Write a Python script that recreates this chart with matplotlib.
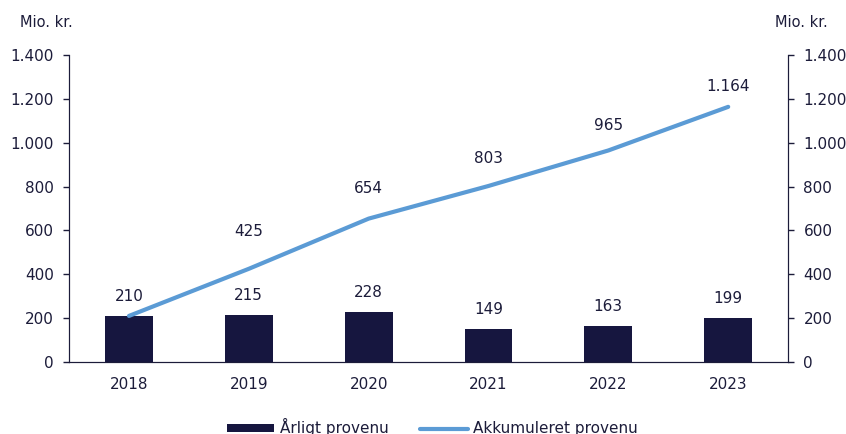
import matplotlib.pyplot as plt

years = ['2018', '2019', '2020', '2021', '2022', '2023']
annual = [210, 215, 228, 149, 163, 199]
cumulative = [210, 425, 654, 803, 965, 1164]
yticks = [0, 200, 400, 600, 800, 1000, 1200, 1400]


def dk(v):
    return f'{v:,}'.replace(',', '.')


plt.rcParams['font.family'] = ['DejaVu Sans']
txt = '#1c1c3a'
navy = '#16163f'
blue = '#5b9bd5'
fs = 11

fig = plt.figure(figsize=(8.46, 4.34), dpi=100)
ax = fig.add_axes([0.0816, 0.166, 0.85, 0.707])
ax2 = ax.twinx()

x = list(range(len(years)))
bars = ax.bar(x, annual, width=0.4, color=navy, label='Årligt provenu', zorder=2)
line, = ax.plot(x, cumulative, color=blue, lw=3, solid_capstyle='round',
                label='Akkumuleret provenu', zorder=3)

for xi, v in zip(x, annual):
    ax.annotate(dk(v), (xi, v), xytext=(0, 14), textcoords='offset points',
                ha='center', va='center', fontsize=fs, color=txt)

line_offsets = [0, 27, 22, 20, 18, 15]
for xi, v, off in zip(x[1:], cumulative[1:], line_offsets[1:]):
    ax.annotate(dk(v), (xi, v), xytext=(0, off), textcoords='offset points',
                ha='center', va='center', fontsize=fs, color=txt)

for a in (ax, ax2):
    a.set_ylim(0, 1400)
    a.set_yticks(yticks)
    a.set_yticklabels([dk(t) for t in yticks])
    a.tick_params(axis='y', colors=txt, labelsize=fs, length=4.5, width=1, pad=6.5)
    a.spines['top'].set_visible(False)
    for s in a.spines.values():
        s.set_color(txt)
ax.set_xlim(-0.5, 5.5)
ax.set_xticks(x)
ax.set_xticklabels(years)
ax.tick_params(axis='x', colors=txt, labelsize=fs, length=0, pad=11)

fig.text(0.024, 0.948, 'Mio. kr.', fontsize=10.5, color=txt, va='center')
fig.text(0.916, 0.948, 'Mio. kr.', fontsize=10.5, color=txt, va='center')

fig.legend(handles=[bars, line], loc='center', bbox_to_anchor=(0.511, 0.015),
           ncol=2, frameon=False, fontsize=fs, labelcolor=txt,
           handlelength=3.1, handleheight=0.5, columnspacing=2.1,
           handletextpad=0.37)

fig.savefig('out.png', dpi=100)
